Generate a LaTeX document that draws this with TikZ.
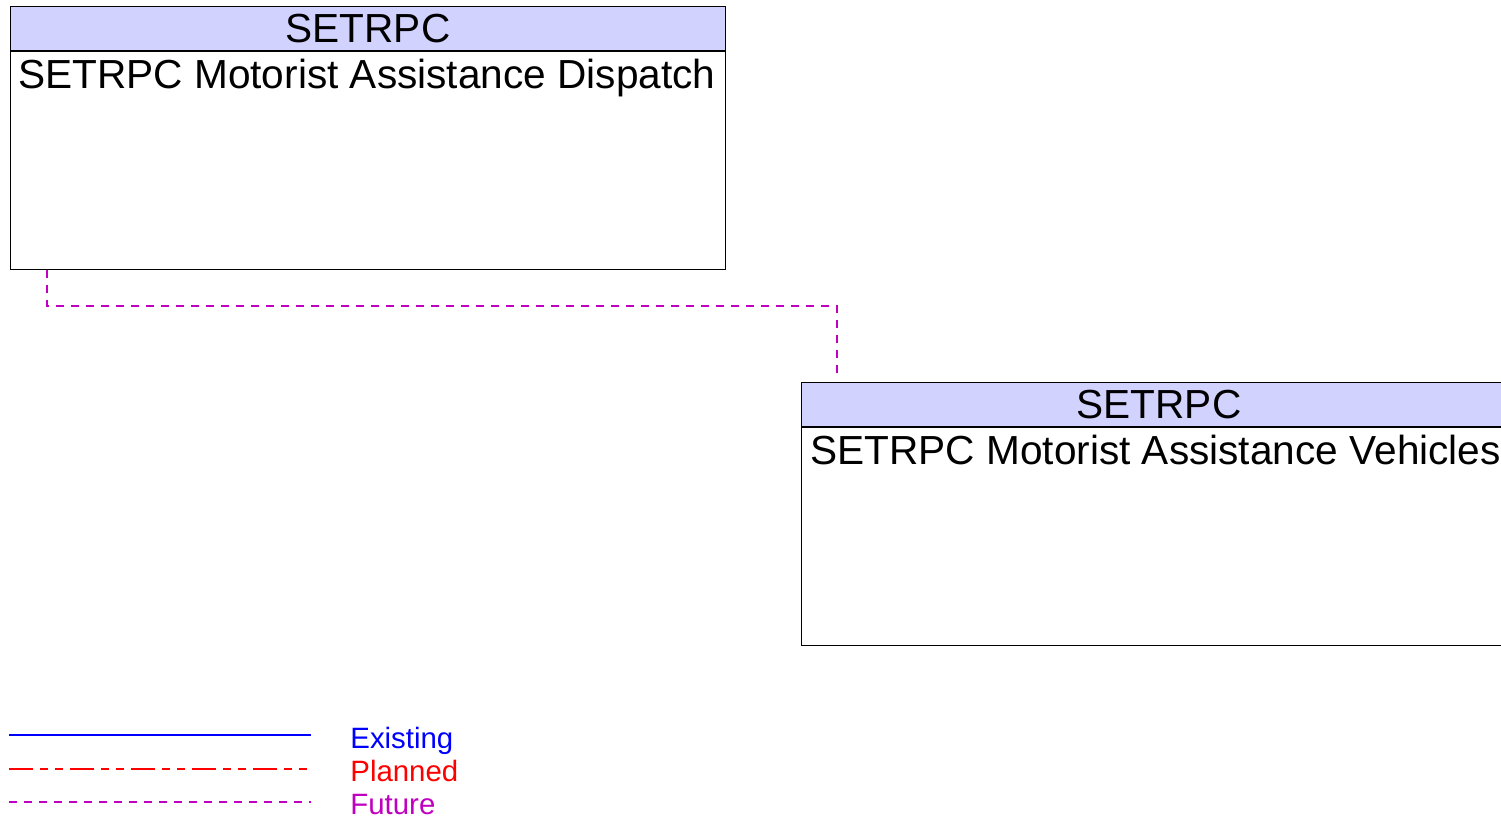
\documentclass[tikz,border=0pt]{standalone}
\usepackage{fontspec}
\setmainfont{Liberation Sans}
\usetikzlibrary{positioning}
\definecolor{hdrfill}{RGB}{210,210,255}
\definecolor{futcol}{RGB}{192,0,192}

\begin{document}
\begin{tikzpicture}[
  x=0.5pt, y=-0.5pt, font=\fontsize{20.3}{24}\selectfont,
  hdr/.style={rectangle, draw=black, line width=0.5pt, fill=hdrfill, anchor=north west, inner sep=0pt, minimum width=357.5pt, minimum height=22pt},
  body/.style={rectangle, draw=black, line width=0.5pt, anchor=north west, inner sep=0pt, minimum width=357.5pt, minimum height=109pt},
  btxt/.style={anchor=base west, inner sep=0pt},
  legtxt/.style={anchor=base west, inner sep=0pt, font=\fontsize{14.7}{17}\selectfont},
  existing/.style={color=blue, line width=1pt},
  planned/.style={color=red, line width=0.6pt, dash pattern=on 12pt off 3.5pt on 4pt off 3.5pt on 4pt off 3.5pt},
  future/.style={color=futcol, line width=0.6pt, dash pattern=on 4pt off 3.5pt}
]
  \useasboundingbox (0,0) rectangle (1501,819);
  \begin{scope}
  \clip (0,0) rectangle (1501,819);
  \node[hdr] (dispHdr) at (10,6) {SETRPC};
  \node[body] (disp) at (dispHdr.south west) {};
  \node[btxt] (dispTxt) at ([xshift=4pt, yshift=-18.5pt]disp.north west) {SETRPC Motorist Assistance Dispatch};
  \node[hdr] (vehHdr) at (801,382) {SETRPC};
  \node[body] (veh) at (vehHdr.south west) {};
  \node[btxt] (vehTxt) at ([xshift=4.5pt, yshift=-18.5pt]veh.north west) {SETRPC Motorist Assistance Vehicles};
  \end{scope}
  \draw[future] ([xshift=18.5pt]disp.south west) -- ++(0,36) -| ([xshift=18pt, yshift=3pt]vehHdr.north west);

  \node[legtxt, text=blue] (lgExist) at (350,748) {Existing};
  \node[legtxt, text=red] (lgPlan) at (350,781) {Planned};
  \node[legtxt, text=futcol] (lgFut) at (350,814) {Future};
  \draw[existing] (9,735) -- (311,735);
  \draw[planned] (9,769) -- (311,769);
  \draw[future] (9,802) -- (311,802);
\end{tikzpicture}
\end{document}
